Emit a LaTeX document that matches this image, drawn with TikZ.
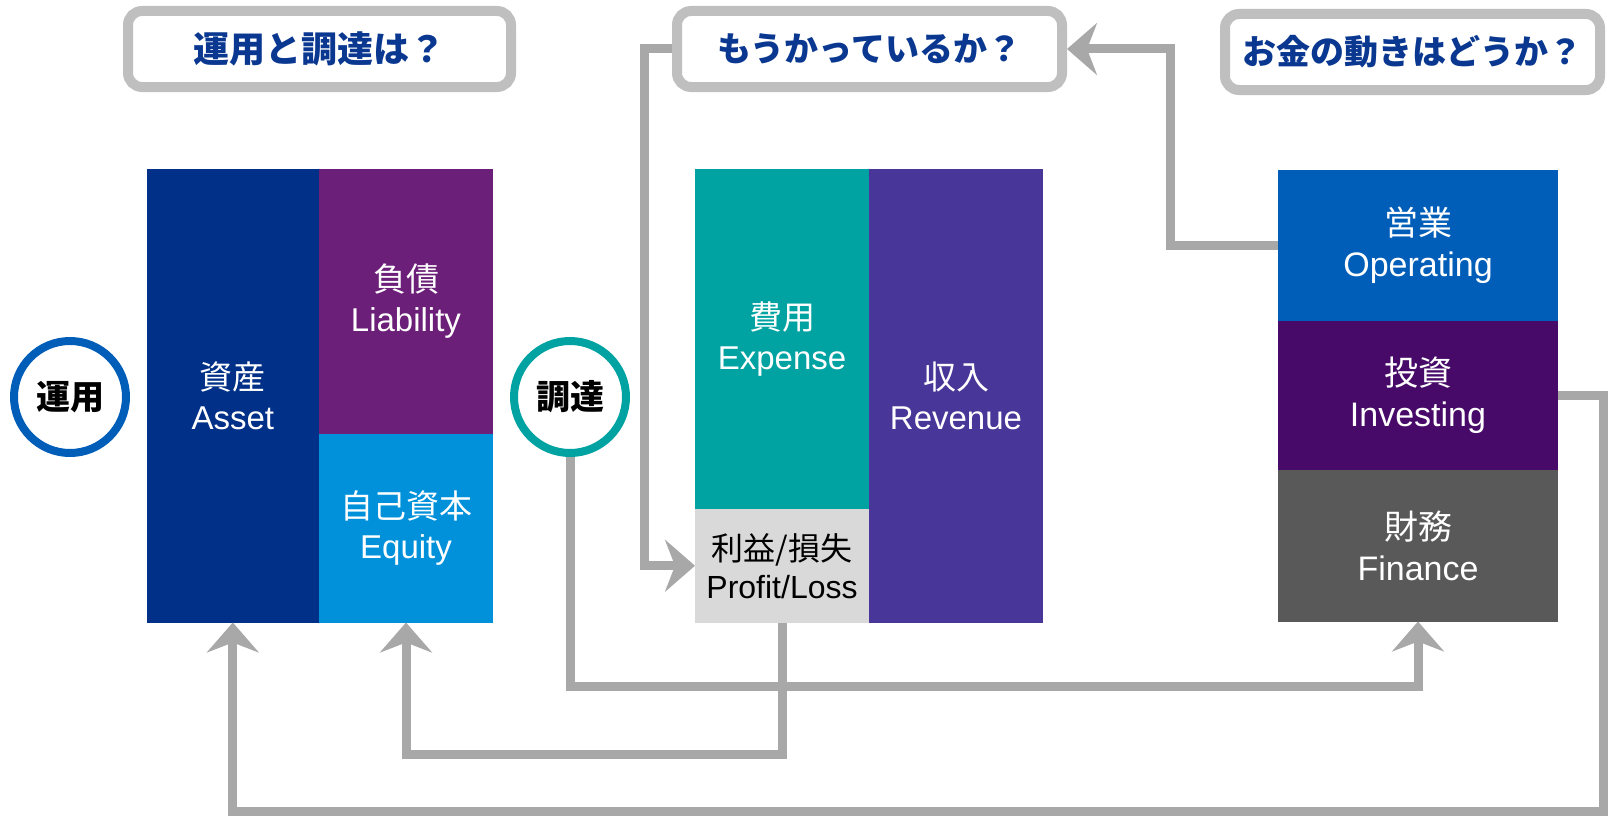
\documentclass[tikz,border=0pt]{standalone}
\usepackage{fontspec}
\setmainfont{Liberation Sans}
\newfontfamily\jp{Noto Sans CJK JP}
\usetikzlibrary{arrows.meta}
\definecolor{assetblue}{RGB}{0,48,135}
\definecolor{liabpurple}{RGB}{108,31,120}
\definecolor{equityblue}{RGB}{0,145,218}
\definecolor{expteal}{RGB}{0,163,161}
\definecolor{plgray}{RGB}{217,217,217}
\definecolor{revpurple}{RGB}{72,54,152}
\definecolor{opblue}{RGB}{0,94,184}
\definecolor{invpurple}{RGB}{71,10,104}
\definecolor{fingray}{RGB}{89,89,89}
\definecolor{askgray}{RGB}{191,191,191}
\definecolor{askblue}{RGB}{10,56,145}
\definecolor{flowgray}{RGB}{168,168,168}
\begin{document}
\begin{tikzpicture}[x=1pt, y=-1pt, >={Stealth[length=30pt,width=52pt,inset=10pt]},
	block/.style={fill=#1, text=white, inner sep=0pt, outer sep=0pt, anchor=north west, align=center, font=\fontsize{33}{40}\selectfont},
	ask/.style={draw=askgray, line width=10pt, rounded corners=14pt, fill=white, minimum height=76pt, text=askblue, font=\fontsize{34}{40}\selectfont\jp\bfseries},
	ring/.style={circle, draw=#1, line width=8pt, minimum size=112pt, inner sep=0pt, font=\fontsize{34}{36}\selectfont\jp\bfseries},
	flow/.style={draw=flowgray, line width=9pt}]
	\useasboundingbox (0,0) rectangle (1608,816);
	% balance sheet
	\node[block=assetblue, minimum width=172.4pt, minimum height=453.5pt] (ast) at (146.6,169) {{\jp 資産}\\Asset};
	\node[block=liabpurple, minimum width=174pt, minimum height=265pt] (liab) at (319,169) {{\jp 負債}\\Liability};
	\node[block=equityblue, minimum width=174pt, minimum height=188.5pt] (eq) at (319,434) {{\jp 自己資本}\\Equity};
	% profit and loss
	\node[block=expteal, minimum width=174pt, minimum height=340pt] (exp) at (695,169) {{\jp 費用}\\Expense};
	\node[block=plgray, text=black, minimum width=174pt, minimum height=113.5pt, font=\fontsize{32}{38}\selectfont] (pl) at (695,509) {{\jp 利益/損失}\\Profit/Loss};
	\node[block=revpurple, minimum width=174pt, minimum height=453.5pt] (rev) at (869,169) {{\jp 収入}\\Revenue};
	% cash flow
	\node[block=opblue, minimum width=280pt, minimum height=151pt, font=\fontsize{34}{41}\selectfont] (op) at (1278,170) {{\jp 営業}\\Operating};
	\node[block=invpurple, minimum width=280pt, minimum height=149pt, font=\fontsize{34}{41}\selectfont] (inv) at (1278,321) {{\jp 投資}\\Investing};
	\node[block=fingray, minimum width=280pt, minimum height=151.5pt, font=\fontsize{34}{41}\selectfont] (fin) at (1278,470) {{\jp 財務}\\Finance};
	% questions and circles
	\node[ask, minimum width=383pt, font=\fontsize{36}{40}\selectfont\jp\bfseries] (q1) at (319.5,49) {運用と調達は？};
	\node[ask, minimum width=385pt] (q2) at (869.5,49) {もうかっているか？};
	\node[ask, minimum width=375pt] (q3) at (1412.5,52) {お金の動きはどうか？};
	\node[ring=opblue] (use) at (70,397) {運用};
	\node[ring=expteal] (raise) at (570,397) {調達};
	% connectors
	\path (0,686) coordinate (L1) (0,754) coordinate (L2) (0,811) coordinate (L3)
	(1603,0) coordinate (R3) (1170,0) coordinate (R4) (644,0) coordinate (R5);
	\draw[flow,->] (raise.south) -- (raise.south |- L1) -| (fin.south);
	\draw[flow,->] (pl.south) -- (pl.south |- L2) -| (eq.south);
	\draw[flow,->] (inv.east) -- (inv.east -| R3) |- (L3 -| ast.south) -- (ast.south);
	\draw[flow,->] (op.west) -- (op.west -| R4) |- (q2.east);
	\draw[flow,->] (q2.west) -- (q2.west -| R5) |- (pl.west);
\end{tikzpicture}
\end{document}
